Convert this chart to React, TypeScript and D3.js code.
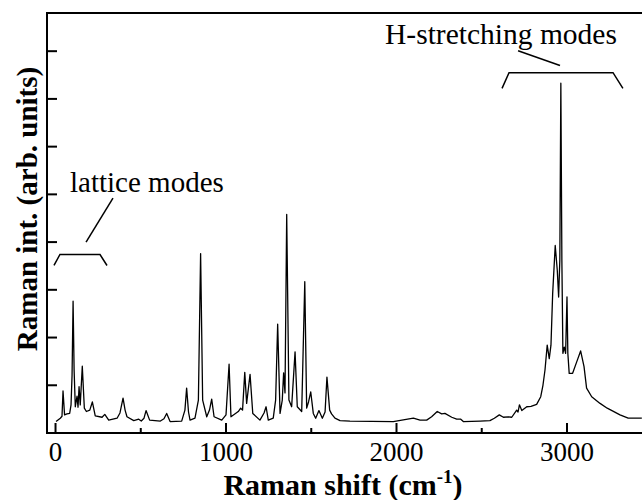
import React, { useEffect, useRef } from 'react';
import * as d3 from 'd3';

// Raman spectrum (shift in cm-1, intensity in arb. units)
const ramanShift = [
  3, 28, 38, 44, 53, 67, 83, 91, 97, 103, 109, 116, 126, 132, 138, 145, 157, 169, 181, 201,
  216, 233, 273, 289, 312, 361, 378, 396, 408, 419, 459, 488, 503, 519, 531, 552, 615, 636, 652, 672,
  740, 759, 769, 780, 789, 818, 838, 851, 863, 887, 903, 916, 930, 975, 1000, 1018, 1029, 1072, 1086, 1097,
  1110, 1121, 1141, 1157, 1199, 1223, 1235, 1248, 1277, 1291, 1303, 1317, 1330, 1338, 1346, 1356, 1369, 1385, 1405, 1418,
  1444, 1462, 1473, 1484, 1497, 1512, 1526, 1545, 1565, 1581, 1592, 1608, 1619, 1639, 1669, 1727, 1981, 2099, 2138, 2177,
  2206, 2239, 2265, 2284, 2324, 2353, 2377, 2392, 2490, 2548, 2574, 2603, 2627, 2656, 2676, 2705, 2713, 2721, 2735, 2764,
  2789, 2822, 2846, 2859, 2871, 2884, 2896, 2906, 2916, 2931, 2943, 2951, 2958, 2964, 2970, 2976, 2984, 2992, 3000, 3005,
  3013, 3033, 3057, 3080, 3100, 3115, 3145, 3194, 3236, 3311, 3359, 3439,
];
const ramanIntensity = [
  0.24, 0.31, 0.35, 0.88, 0.38, 0.40, 0.41, 0.59, 1.21, 2.76, 1.32, 0.55, 0.77, 0.54, 0.97, 0.59, 1.40, 0.52, 0.45, 0.48,
  0.65, 0.36, 0.33, 0.39, 0.27, 0.31, 0.42, 0.73, 0.48, 0.34, 0.26, 0.29, 0.25, 0.31, 0.47, 0.27, 0.25, 0.30, 0.41, 0.24,
  0.25, 0.48, 0.94, 0.44, 0.27, 0.31, 0.69, 3.76, 0.69, 0.34, 0.48, 0.71, 0.34, 0.27, 0.38, 1.44, 0.34, 0.45, 0.52, 0.48,
  1.27, 0.62, 1.23, 0.41, 0.27, 0.42, 0.55, 0.27, 0.31, 0.69, 2.28, 0.41, 0.69, 1.26, 0.84, 4.58, 0.69, 0.55, 1.70, 0.55,
  0.45, 3.17, 0.52, 0.65, 0.86, 0.41, 0.31, 0.47, 0.31, 0.44, 1.17, 0.48, 0.40, 0.31, 0.26, 0.25, 0.24, 0.31, 0.27, 0.27,
  0.34, 0.45, 0.40, 0.41, 0.33, 0.29, 0.29, 0.24, 0.25, 0.26, 0.31, 0.38, 0.33, 0.34, 0.33, 0.48, 0.44, 0.59, 0.47, 0.55,
  0.56, 0.60, 0.76, 1.00, 1.32, 1.84, 1.56, 1.84, 2.92, 3.93, 3.41, 2.85, 3.62, 7.33, 3.62, 1.67, 1.80, 1.67, 2.85, 1.67,
  1.25, 1.25, 1.49, 1.72, 1.39, 0.94, 0.76, 0.62, 0.52, 0.38, 0.31, 0.31,
];

const xMajorTicks = [0, 1000, 2000, 3000];
const xMinorTicks = [500, 1500, 2500];
const yTicks = [1, 2, 3, 4, 5, 6, 7, 8];

// annotation brackets [shift, intensity]
const latticeBracket = [[-9, 3.51], [26, 3.74], [261, 3.74], [302, 3.51]];
const latticePointer = [[179, 4.0], [337, 4.92]];
const hBracket = [[2619, 7.22], [2660, 7.55], [3270, 7.55], [3328, 7.22]];
const hPointer = [[2713, 8.01], [2959, 7.7]];

const App = () => {
  const svgRef = useRef<SVGSVGElement>(null);

  useEffect(() => {
    if (!svgRef.current) return;
    const svg = d3.select(svgRef.current);
    svg.selectAll('*').remove();

    const width = 642;
    const height = 500;
    const left = 47, right = 642, top = 13, bottom = 433;
    const font = '"Liberation Serif", "Times New Roman", serif';

    svg.attr('width', width).attr('height', height);
    svg.append('rect').attr('width', width).attr('height', height).attr('fill', '#fff');

    const x = d3.scaleLinear().domain([-50, 3440]).range([left, right]);
    const y = d3.scaleLinear().domain([0, 8.8]).range([bottom, top]);

    // spectrum
    const pts = ramanShift.map((s, i) => [s, ramanIntensity[i]] as [number, number]);
    const line = d3.line<[number, number]>().x(d => x(d[0])).y(d => y(d[1]));
    svg.append('path')
      .attr('d', line(pts))
      .attr('fill', 'none')
      .attr('stroke', '#000')
      .attr('stroke-width', 1.3)
      .attr('stroke-linejoin', 'round');

    // frame
    svg.append('path')
      .attr('d', `M${right + 2},${top}H${left}V${bottom}H${right + 2}`)
      .attr('fill', 'none')
      .attr('stroke', '#000')
      .attr('stroke-width', 2);

    // y ticks (inward)
    svg.selectAll('.ytick')
      .data(yTicks)
      .join('line')
      .attr('x1', left).attr('x2', left + 10)
      .attr('y1', d => y(d)).attr('y2', d => y(d))
      .attr('stroke', '#000').attr('stroke-width', 2);

    // x ticks (inward)
    svg.selectAll('.xmajor')
      .data(xMajorTicks)
      .join('line')
      .attr('x1', d => x(d)).attr('x2', d => x(d))
      .attr('y1', bottom).attr('y2', bottom - 10)
      .attr('stroke', '#000').attr('stroke-width', 2);
    svg.selectAll('.xminor')
      .data(xMinorTicks)
      .join('line')
      .attr('x1', d => x(d)).attr('x2', d => x(d))
      .attr('y1', bottom).attr('y2', bottom - 5)
      .attr('stroke', '#000').attr('stroke-width', 2);

    svg.selectAll('.xlabel')
      .data(xMajorTicks)
      .join('text')
      .attr('x', d => x(d))
      .attr('y', 461)
      .attr('text-anchor', 'middle')
      .style('font-family', font)
      .style('font-size', '27px')
      .text(d => d);

    // axis titles
    const xt = svg.append('text')
      .attr('x', 343)
      .attr('y', 495)
      .attr('text-anchor', 'middle')
      .style('font-family', font)
      .style('font-size', '30px')
      .style('font-weight', 'bold');
    xt.append('tspan').text('Raman shift (cm');
    xt.append('tspan').attr('dy', -12).style('font-size', '19px').text('-1');
    xt.append('tspan').attr('dy', 12).text(')');

    svg.append('text')
      .attr('transform', 'translate(37,209) rotate(-90)')
      .attr('text-anchor', 'middle')
      .style('font-family', font)
      .style('font-size', '29px')
      .style('font-weight', 'bold')
      .text('Raman int. (arb. units)');

    // annotations
    const ann = d3.line<number[]>().x(d => x(d[0])).y(d => y(d[1]));
    [latticeBracket, latticePointer, hBracket, hPointer].forEach(p => {
      svg.append('path')
        .attr('d', ann(p))
        .attr('fill', 'none')
        .attr('stroke', '#000')
        .attr('stroke-width', 1.5);
    });

    svg.append('text')
      .attr('x', x(85)).attr('y', y(5.06))
      .style('font-family', font)
      .style('font-size', '29px')
      .text('lattice modes');

    svg.append('text')
      .attr('x', x(1933)).attr('y', y(8.16))
      .style('font-family', font)
      .style('font-size', '29.5px')
      .text('H-stretching modes');
  }, []);

  return <svg ref={svgRef} style={{ position: 'absolute', left: 0, top: 0, display: 'block' }} />;
};

export default App;
